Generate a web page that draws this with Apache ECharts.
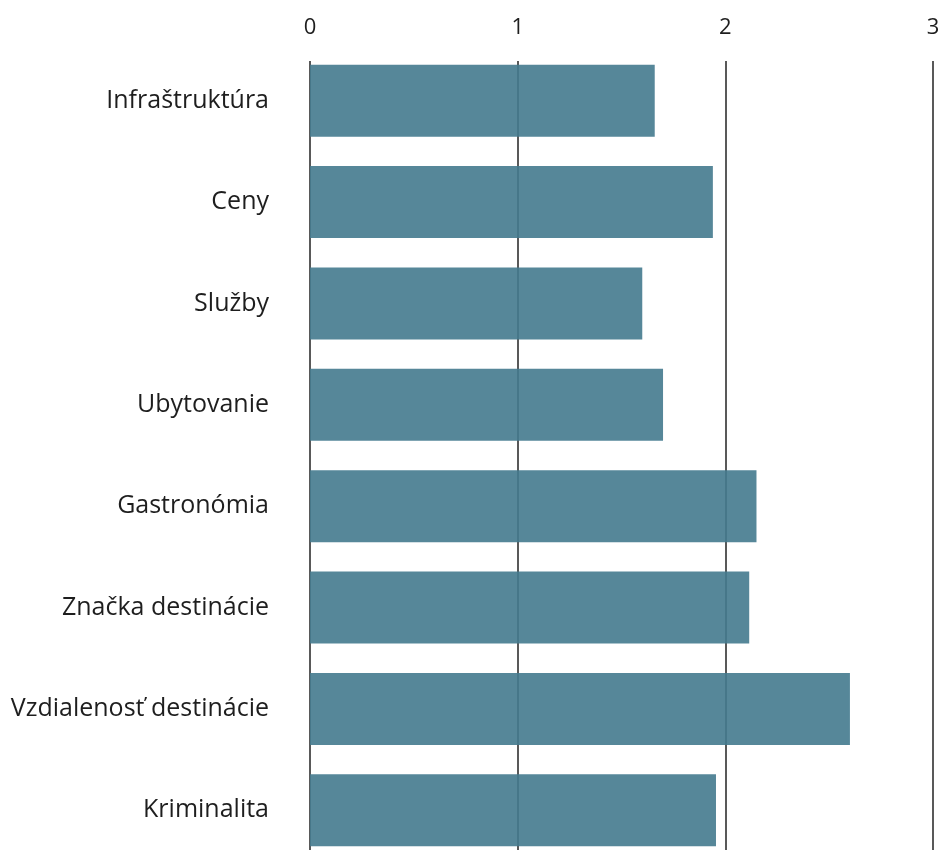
<!DOCTYPE html>
<html>
<head>
<meta charset="utf-8">
<script src="https://cdn.jsdelivr.net/npm/echarts@6/dist/echarts.min.js"></script>
<style>html,body{margin:0;padding:0;background:#fff}#c{width:939px;height:850px}</style>
</head>
<body>
<div id="c"></div>
<script>
const categories = ['Infraštruktúra','Ceny','Služby','Ubytovanie','Gastronómia','Značka destinácie','Vzdialenosť destinácie','Kriminalita'];
const values = [1.66, 1.94, 1.60, 1.70, 2.15, 2.115, 2.60, 1.955];
const tickMin = 0, tickMax = 3, tickStep = 1;

const chart = echarts.init(document.getElementById('c'), null, {renderer:'canvas'});
const font = '"Open Sans", "Noto Sans", sans-serif';
chart.setOption({
  animation: false,
  backgroundColor: '#fff',
  grid: [
    {left: 310, right: 6, top: 61, height: 789, outerBoundsMode: 'none', containLabel: false},
    {left: 310, right: 6, top: 50, height: 811, outerBoundsMode: 'none', containLabel: false}
  ],
  xAxis: [
    {gridIndex: 0, type: 'value', position: 'top', min: tickMin, max: tickMax, interval: tickStep,
     axisLine: {show: false}, axisTick: {show: false},
     axisLabel: {fontSize: 22, color: '#1e1e1e', fontFamily: font, margin: 22},
     splitLine: {show: true, lineStyle: {color: '#222', width: 1.5}}},
    {gridIndex: 1, type: 'value', min: tickMin, max: tickMax, interval: tickStep, show: false,
     splitLine: {show: false}}
  ],
  yAxis: [
    {gridIndex: 0, type: 'category', data: categories, inverse: true, show: false},
    {gridIndex: 1, type: 'category', data: categories, inverse: true,
     axisLine: {show: false}, axisTick: {show: false},
     axisLabel: {fontSize: 25, color: '#1e1e1e', fontFamily: font, margin: 41}}
  ],
  series: [{
    type: 'bar', xAxisIndex: 1, yAxisIndex: 1, data: values, barWidth: 72,
    itemStyle: {color: '#447a8e', opacity: 0.9}
  }]
});
</script>
</body>
</html>
